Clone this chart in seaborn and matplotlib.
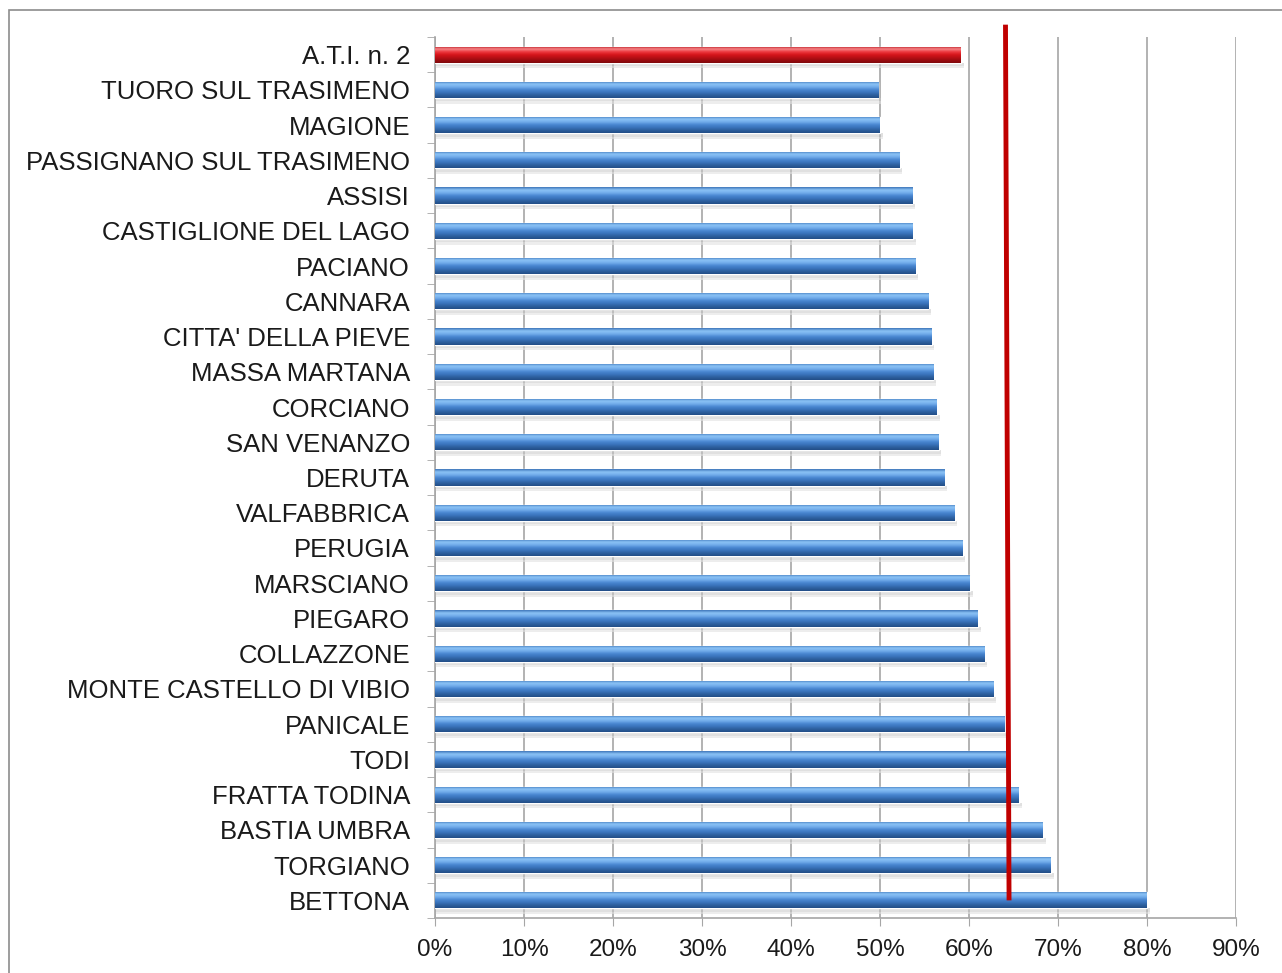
import numpy as np
import pandas as pd
import matplotlib
matplotlib.use("Agg")
import matplotlib.pyplot as plt
import seaborn as sns
from matplotlib.ticker import FixedLocator, PercentFormatter
from matplotlib.colors import LinearSegmentedColormap
from matplotlib.patches import Rectangle

categories = ["A.T.I. n. 2", "TUORO SUL TRASIMENO", "MAGIONE", "PASSIGNANO SUL TRASIMENO",
              "ASSISI", "CASTIGLIONE DEL LAGO", "PACIANO", "CANNARA", "CITTA' DELLA PIEVE",
              "MASSA MARTANA", "CORCIANO", "SAN VENANZO", "DERUTA", "VALFABBRICA", "PERUGIA",
              "MARSCIANO", "PIEGARO", "COLLAZZONE", "MONTE CASTELLO DI VIBIO", "PANICALE",
              "TODI", "FRATTA TODINA", "BASTIA UMBRA", "TORGIANO", "BETTONA"]
values = [0.591, 0.498, 0.500, 0.522, 0.536, 0.537, 0.540, 0.554, 0.558, 0.560, 0.564,
          0.566, 0.572, 0.584, 0.593, 0.601, 0.610, 0.617, 0.627, 0.640, 0.642, 0.656,
          0.683, 0.692, 0.800]
line_x = [0.641, 0.645]
xticks = [0, 0.1, 0.2, 0.3, 0.4, 0.5, 0.6, 0.7, 0.8, 0.9]

sns.set_style("white")
plt.rcParams['font.family'] = ['Liberation Sans', 'DejaVu Sans']

df = pd.DataFrame({"cat": categories, "val": values})
fig = plt.figure(figsize=(12.82, 9.73), dpi=100)
ax = fig.add_axes([435/1282, 1 - 918/973, (1236-435)/1282, (918-37)/973])

colors = ["#C0141A"] + ["#3F7FC8"] * (len(categories) - 1)
bh = 0.46
sns.barplot(data=df, x="val", y="cat", hue="cat", palette=colors, orient="h",
            width=bh, legend=False, ax=ax, zorder=3, saturation=1)

blue_cmap = LinearSegmentedColormap.from_list(
    "b", ["#3C73B8", "#8CC4F6", "#74AEEC", "#4A88D2", "#3A74BC", "#2D5F9E", "#234E86"])
red_cmap = LinearSegmentedColormap.from_list(
    "r", ["#B8121A", "#F6878A", "#EE3A40", "#D8161C", "#BC1016", "#9C0C10", "#800A0D"])
grad = np.linspace(0, 1, 64).reshape(-1, 1)
for i, p in enumerate(list(ax.patches)):
    x0, y0 = p.get_x(), p.get_y()
    w, h = p.get_width(), p.get_height()
    # soft shadow
    ax.add_patch(Rectangle((x0, y0 + h), w + 0.003, 0.10, facecolor="#C8C8C8", alpha=0.55,
                           edgecolor="none", zorder=2))
    ax.add_patch(Rectangle((x0, y0 + h + 0.10), w + 0.003, 0.06, facecolor="#E2E2E2", alpha=0.6,
                           edgecolor="none", zorder=2))
    cmap = red_cmap if i == 0 else blue_cmap
    im = ax.imshow(grad, cmap=cmap, aspect="auto", extent=[x0, x0 + w, y0 + h, y0],
                   zorder=4, interpolation="bicubic")
    im.set_clip_path(p)

ax.set_xlim(0, 0.9)
ax.set_ylim(len(categories) - 0.5, -0.5)

# red reference line
ax.plot(line_x, [-0.85, len(categories) - 1], color="#C00000", lw=3.5, zorder=6,
        clip_on=False, solid_capstyle="butt")

ax.xaxis.set_major_locator(FixedLocator(xticks))
ax.xaxis.set_major_formatter(PercentFormatter(1.0, decimals=0))
ax.grid(axis="x", color="#A6A6A6", lw=1.2, zorder=0)
ax.set_axisbelow(True)
ax.set_xlabel("")
ax.set_ylabel("")
ax.tick_params(axis="x", which="major", direction="out", length=6, color="#A6A6A6",
               labelsize=17.5, pad=9, bottom=True)
ax.tick_params(axis="y", which="major", length=0, labelsize=18.5, pad=18)
ax.yaxis.set_minor_locator(FixedLocator(np.arange(-0.5, len(categories), 1)))
ax.tick_params(axis="y", which="minor", direction="out", length=6, color="#A6A6A6", left=True)
for lab in ax.get_xticklabels() + ax.get_yticklabels():
    lab.set_color("#1A1A1A")

for s in ["top", "right"]:
    ax.spines[s].set_visible(False)
for s in ["left", "bottom"]:
    ax.spines[s].set_color("#A6A6A6")
    ax.spines[s].set_linewidth(1.2)

# outer frame
fig.patches.append(Rectangle((9/1282, -0.05), 1.1, 1 - 10/973 + 0.05, transform=fig.transFigure,
                             fill=False, edgecolor="#8C8C8C", lw=1.2))

fig.savefig("out.png", dpi=100)
